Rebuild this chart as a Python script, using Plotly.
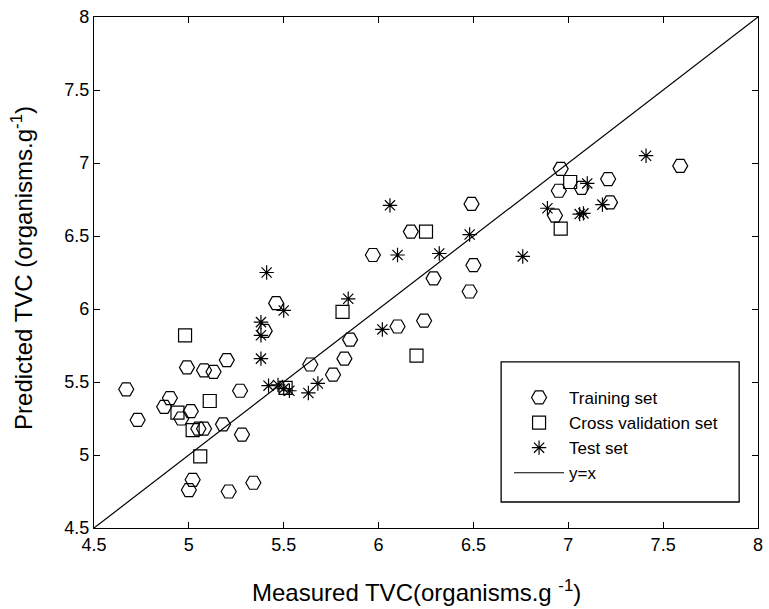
import plotly.graph_objects as go

# ---- data ----
train_x = [4.67, 4.73, 4.87, 4.90, 4.96, 4.99, 5.01, 5.00, 5.02, 5.05, 5.08, 5.08, 5.13,
           5.18, 5.20, 5.21, 5.27, 5.28, 5.34, 5.40, 5.46, 5.64, 5.76, 5.82, 5.85, 5.97,
           6.10, 6.17, 6.24, 6.29, 6.48, 6.50, 6.49, 6.93, 6.96, 6.95, 7.07, 7.21, 7.22, 7.59]
train_y = [5.45, 5.24, 5.33, 5.39, 5.25, 5.60, 5.30, 4.76, 4.83, 5.18, 5.18, 5.58, 5.57,
           5.21, 5.65, 4.75, 5.44, 5.14, 4.81, 5.85, 6.04, 5.62, 5.55, 5.66, 5.79, 6.37,
           5.88, 6.53, 5.92, 6.21, 6.12, 6.30, 6.72, 6.64, 6.96, 6.81, 6.83, 6.89, 6.73, 6.98]

cv_x = [4.98, 4.94, 5.02, 5.06, 5.11, 5.51, 5.81, 6.20, 6.25, 6.96, 7.01]
cv_y = [5.82, 5.29, 5.17, 4.99, 5.37, 5.46, 5.98, 5.68, 6.53, 6.55, 6.87]

test_x = [5.38, 5.38, 5.38, 5.41, 5.50, 5.42, 5.47, 5.50, 5.53, 5.63, 5.68, 5.84, 6.02,
          6.06, 6.10, 6.32, 6.48, 6.76, 6.89, 7.06, 7.08, 7.10, 7.18, 7.41]
test_y = [5.91, 5.82, 5.66, 6.25, 5.99, 5.475, 5.48, 5.455, 5.44, 5.425, 5.49, 6.07, 5.86,
          6.71, 6.37, 6.38, 6.51, 6.36, 6.69, 6.65, 6.655, 6.86, 6.715, 7.05]

line_x = [4.5, 8.0]
line_y = [4.5, 8.0]

tick_vals = [4.5, 5.0, 5.5, 6.0, 6.5, 7.0, 7.5, 8.0]
tick_text = ["4.5", "5", "5.5", "6", "6.5", "7", "7.5", "8"]

series_names = ["Training set", "Cross validation set", "Test set", "y=x"]
x_title = "Measured TVC(organisms.g <sup>-1</sup>)"
y_title = "Predicted TVC (organisms.g<sup>-1</sup>)"

# ---- layout geometry (pixels) ----
W, H = 769, 609
L, R, T, B = 93.5, 6, 17.3, 81
pw, ph = W - L - R, H - T - B


def px2paper_x(px):
    return (px - L) / pw


def px2paper_y(py):
    return (H - B - py) / ph


FONT = "Liberation Sans, Arial, Helvetica, sans-serif"

fig = go.Figure()
fig.add_trace(go.Scatter(x=train_x, y=train_y, mode="markers", name=series_names[0],
                         marker=dict(symbol="hexagon2-open", size=15, color="black",
                                     line=dict(width=1.2, color="black"))))
fig.add_trace(go.Scatter(x=cv_x, y=cv_y, mode="markers", name=series_names[1],
                         marker=dict(symbol="square-open", size=13, color="black",
                                     line=dict(width=1.2, color="black"))))
fig.add_trace(go.Scatter(x=test_x, y=test_y, mode="markers", name=series_names[2],
                         marker=dict(symbol="asterisk-open", size=12, color="black",
                                     line=dict(width=1.2, color="black"))))
fig.add_trace(go.Scatter(x=line_x, y=line_y, mode="lines", name=series_names[3],
                         line=dict(color="black", width=1.2)))

axis_common = dict(
    range=[4.5, 8.0], tickvals=tick_vals, ticktext=tick_text,
    ticks="inside", ticklen=6, tickwidth=1.2, tickcolor="black",
    showline=True, linecolor="black", linewidth=1.3, mirror="ticks",
    showgrid=False, zeroline=False,
    tickfont=dict(family=FONT, size=18, color="black"),
)

fig.update_layout(
    width=W, height=H,
    margin=dict(l=L, r=R, t=T, b=B, pad=0),
    paper_bgcolor="white", plot_bgcolor="white",
    xaxis=axis_common, yaxis=axis_common,
    showlegend=True,
    legend=dict(x=px2paper_x(512), y=px2paper_y(380), xanchor="left", yanchor="top",
                bgcolor="rgba(0,0,0,0)", borderwidth=0,
                font=dict(family=FONT, size=17, color="black"),
                itemwidth=50, tracegroupgap=0),
    shapes=[dict(type="rect", xref="paper", yref="paper",
                 x0=px2paper_x(504), x1=px2paper_x(744),
                 y0=px2paper_y(502), y1=px2paper_y(362),
                 line=dict(color="black", width=1.3), fillcolor="rgba(0,0,0,0)")],
    annotations=[
        dict(text=x_title, xref="paper", yref="paper",
             x=px2paper_x(419), y=px2paper_y(608), xanchor="center", yanchor="bottom",
             showarrow=False, font=dict(family=FONT, size=24, color="black")),
        dict(text=y_title, xref="paper", yref="paper",
             x=px2paper_x(21), y=px2paper_y(268), xanchor="center", yanchor="middle",
             textangle=-90, showarrow=False, font=dict(family=FONT, size=24, color="black")),
    ],
)

fig.write_html(
    "out.html",
    config={"displayModeBar": False},
    post_script="document.body.style.margin='0';document.body.style.padding='0';"
                "document.body.style.overflow='hidden';",
)
